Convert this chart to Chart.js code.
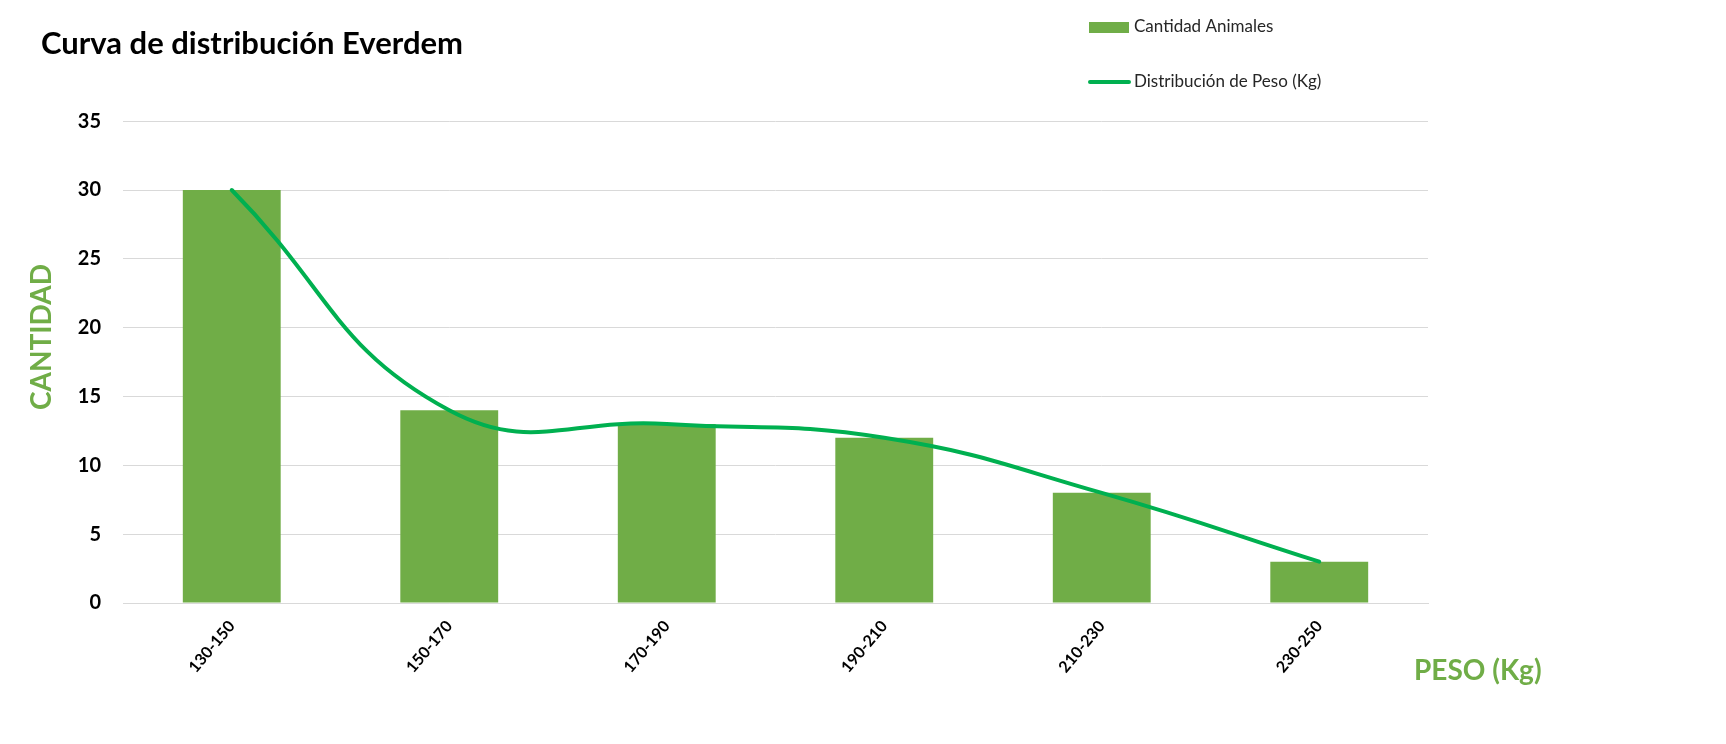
<!DOCTYPE html>
<html>
<head>
<meta charset="utf-8">
<script src="https://cdn.jsdelivr.net/npm/chart.js@4.4.0/dist/chart.umd.min.js"></script>
<style>
  html, body { margin: 0; padding: 0; background: #fff; }
  #wrap { width: 1726px; height: 744px; }
</style>
</head>
<body>
<div id="wrap"><canvas id="myChart" width="1726" height="744"></canvas></div>
<script>
// data
const categories = ['130-150', '150-170', '170-190', '190-210', '210-230', '230-250'];
const cantidadAnimales = [30, 14, 13, 12, 8, 3];
const distribucionPeso = [30, 14, 13, 12, 8, 3];
const yTicks = [0, 5, 10, 15, 20, 25, 30, 35];

const FONT = 'Lato, "Open Sans", sans-serif';
const BAR_GREEN = '#70AD47';
const LINE_GREEN = '#00B050';

// legend stacked at the top right, plus the axis titles placed like the original
const extrasPlugin = {
    id: 'extras',
    afterDraw(chart) {
        const ctx = chart.ctx;
        ctx.save();
        ctx.textBaseline = 'middle';
        ctx.textAlign = 'left';
        ctx.font = '17px ' + FONT;
        const items = [chart.data.datasets[0], chart.data.datasets[1]];
        // bar item
        ctx.fillStyle = items[0].backgroundColor;
        ctx.fillRect(1089, 22, 40, 11);
        ctx.fillStyle = '#262626';
        ctx.fillText(items[0].label, 1134, 27);
        // line item
        ctx.strokeStyle = items[1].borderColor;
        ctx.lineWidth = 4;
        ctx.lineCap = 'round';
        ctx.beginPath();
        ctx.moveTo(1090, 82);
        ctx.lineTo(1129, 82);
        ctx.stroke();
        ctx.fillStyle = '#262626';
        ctx.fillText(items[1].label, 1134, 82);
        // x axis title
        ctx.font = 'bold 28px ' + FONT;
        ctx.fillStyle = BAR_GREEN;
        ctx.fillText('PESO (Kg)', 1414, 671);
        // y axis title
        ctx.translate(42, 337);
        ctx.rotate(-Math.PI / 2);
        ctx.textAlign = 'center';
        ctx.fillText('CANTIDAD', 0, 0);
        ctx.restore();
    }
};

function initChart() {
    const ctx = document.getElementById('myChart').getContext('2d');
    return new Chart(ctx, {
        type: 'bar',
        data: {
            labels: categories,
            datasets: [{
                type: 'bar',
                label: 'Cantidad Animales',
                data: cantidadAnimales,
                backgroundColor: BAR_GREEN,
                barPercentage: 0.45,
                categoryPercentage: 1.0,
                order: 2
            }, {
                type: 'line',
                label: 'Distribución de Peso (Kg)',
                data: distribucionPeso,
                borderColor: LINE_GREEN,
                backgroundColor: LINE_GREEN,
                borderWidth: 4,
                borderCapStyle: 'round',
                pointRadius: 0,
                tension: 0.45,
                fill: false,
                order: 1
            }]
        },
        options: {
            responsive: false,
            animation: false,
            layout: { padding: { left: 41, right: 298, top: 0, bottom: 0 } },
            plugins: {
                legend: { display: false },
                tooltip: { enabled: false },
                title: {
                    display: true,
                    text: 'Curva de distribución Everdem',
                    align: 'start',
                    color: '#000',
                    font: { family: FONT, size: 31, weight: 'bold', lineHeight: 1.2 },
                    padding: { top: 25, bottom: 59 }
                }
            },
            scales: {
                x: {
                    offset: true,
                    grid: { display: false, drawTicks: false },
                    border: { display: true, color: '#D9D9D9', width: 1 },
                    ticks: {
                        color: '#000',
                        font: { family: FONT, size: 16, weight: 'bold' },
                        minRotation: 50,
                        maxRotation: 50,
                        padding: 14
                    },
                    afterFit(scale) { scale.height = 141; }
                },
                y: {
                    min: 0,
                    max: 35,
                    afterBuildTicks(scale) { scale.ticks = yTicks.map(v => ({ value: v })); },
                    grid: { color: '#D9D9D9', lineWidth: 1, drawTicks: false },
                    border: { display: false },
                    ticks: {
                        color: '#000',
                        font: { family: FONT, size: 20, weight: 'bold' },
                        padding: 22
                    },
                    afterFit(scale) { scale.width = 82; }
                }
            }
        },
        plugins: [extrasPlugin]
    });
}

const chart = initChart();
</script>
</body>
</html>
